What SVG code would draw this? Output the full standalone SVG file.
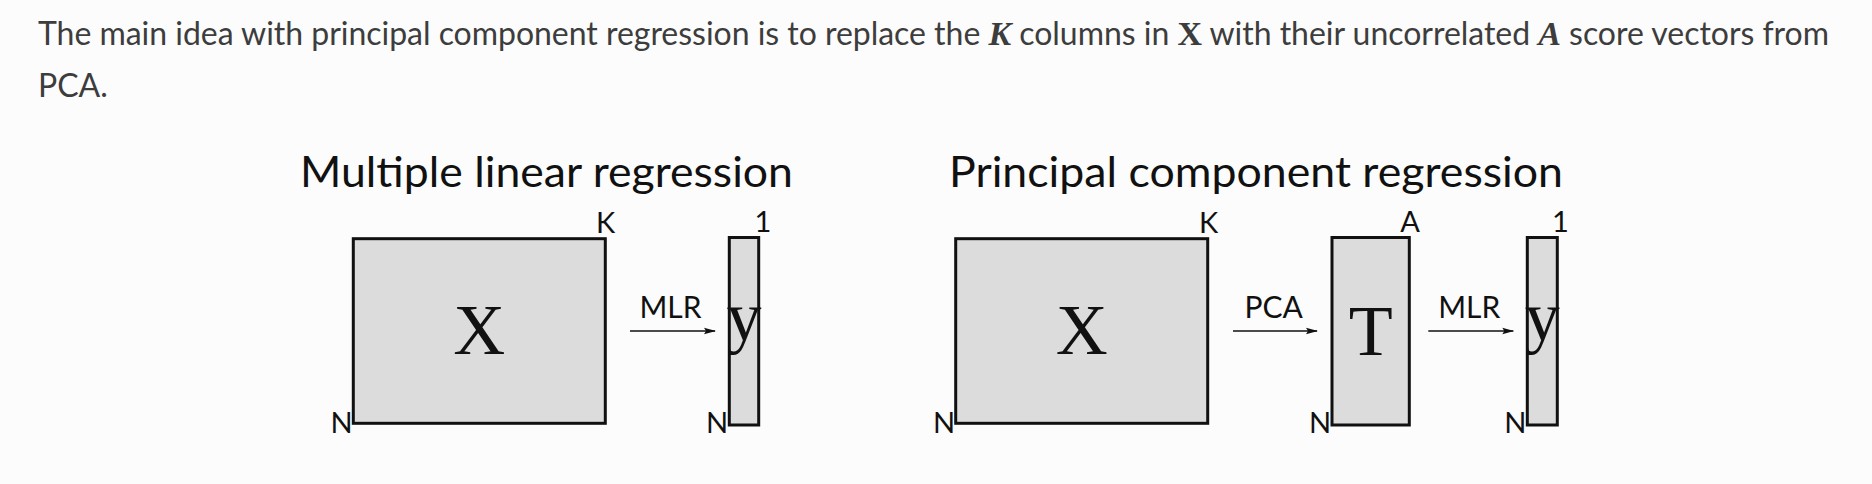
<svg xmlns="http://www.w3.org/2000/svg" width="1872" height="484" viewBox="0 0 1872 484">
<defs>
<style>
.body{font-family:Lato,"Open Sans",sans-serif;font-size:32px;fill:#3d3d3d}
.mi{font-family:"Liberation Serif",serif;font-style:italic;font-weight:bold;font-size:34px;fill:#3d3d3d}
.mb{font-family:"Liberation Serif",serif;font-weight:bold;font-size:34px;fill:#3d3d3d}
.title{font-family:Lato,"Noto Sans",sans-serif;font-size:43px;fill:#111}
.lbl{font-family:Lato,"Noto Sans",sans-serif;font-size:29px;fill:#111;text-anchor:middle}
.op{font-family:Lato,"Noto Sans",sans-serif;font-size:30px;fill:#111;text-anchor:middle}
.box{fill:#dcdcdc;stroke:#111;stroke-width:3}
.big{font-family:"Liberation Serif",serif;font-size:72px;fill:#111;text-anchor:middle}
.conn{stroke:#111;stroke-width:1.6;fill:none}
</style>
<marker id="ah" markerWidth="12" markerHeight="8" refX="11" refY="4" orient="auto" markerUnits="userSpaceOnUse">
<path d="M0,0.8 L12,4 L0,7.2 L2,4 Z" fill="#111"/>
</marker>
</defs>
<rect width="1872" height="484" fill="#fcfcfc"/>
<text class="body" x="38" y="45" textLength="1791" lengthAdjust="spacing">The main idea with principal component regression is to replace the <tspan class="mi">K</tspan> columns in <tspan class="mb">X</tspan> with their uncorrelated <tspan class="mi">A</tspan> score vectors from</text>
<text class="body" x="38" y="97">PCA.</text>

<g id="title-mlr"><text class="title" x="300" y="187" textLength="493" lengthAdjust="spacingAndGlyphs">Multiple linear regression</text></g>
<g id="title-pcr"><text class="title" x="949" y="187" textLength="614" lengthAdjust="spacingAndGlyphs">Principal component regression</text></g>

<g id="mlr-X">
<rect class="box" x="353.3" y="238.7" width="252" height="184.6"/>
<text class="big" x="479.3" y="354">X</text>
<text class="lbl" x="605.5" y="232.7">K</text>
<text class="lbl" x="341.5" y="432.7">N</text>
</g>
<g id="mlr-y">
<rect class="box" x="729.3" y="237.5" width="29.4" height="187.5"/>
<text class="big" x="744" y="340" style="font-size:70px">y</text>
<text class="lbl" x="763" y="231.7">1</text>
<text class="lbl" x="717" y="432.7">N</text>
</g>

<g id="pcr-X">
<rect class="box" x="955.7" y="238.7" width="252" height="184.6"/>
<text class="big" x="1081.7" y="354">X</text>
<text class="lbl" x="1208.7" y="232.7">K</text>
<text class="lbl" x="944" y="432.7">N</text>
</g>
<g id="pcr-T">
<rect class="box" x="1332" y="237.5" width="77.3" height="187.5"/>
<text class="big" x="1370.7" y="355">T</text>
<text class="lbl" x="1410" y="231.7">A</text>
<text class="lbl" x="1320" y="432.7">N</text>
</g>
<g id="pcr-y">
<rect class="box" x="1527.3" y="237.5" width="30" height="187.5"/>
<text class="big" x="1542.3" y="340" style="font-size:70px">y</text>
<text class="lbl" x="1560.3" y="231.7">1</text>
<text class="lbl" x="1515.3" y="432.7">N</text>
</g>

<g id="connectors">
<line class="conn" x1="630" y1="331" x2="715" y2="331" marker-end="url(#ah)"/>
<text class="op" x="670.5" y="318.3">MLR</text>
<line class="conn" x1="1233" y1="331" x2="1317" y2="331" marker-end="url(#ah)"/>
<text class="op" x="1273.7" y="318.3">PCA</text>
<line class="conn" x1="1428.3" y1="331" x2="1513.3" y2="331" marker-end="url(#ah)"/>
<text class="op" x="1469.2" y="318.3">MLR</text>
</g>
</svg>
